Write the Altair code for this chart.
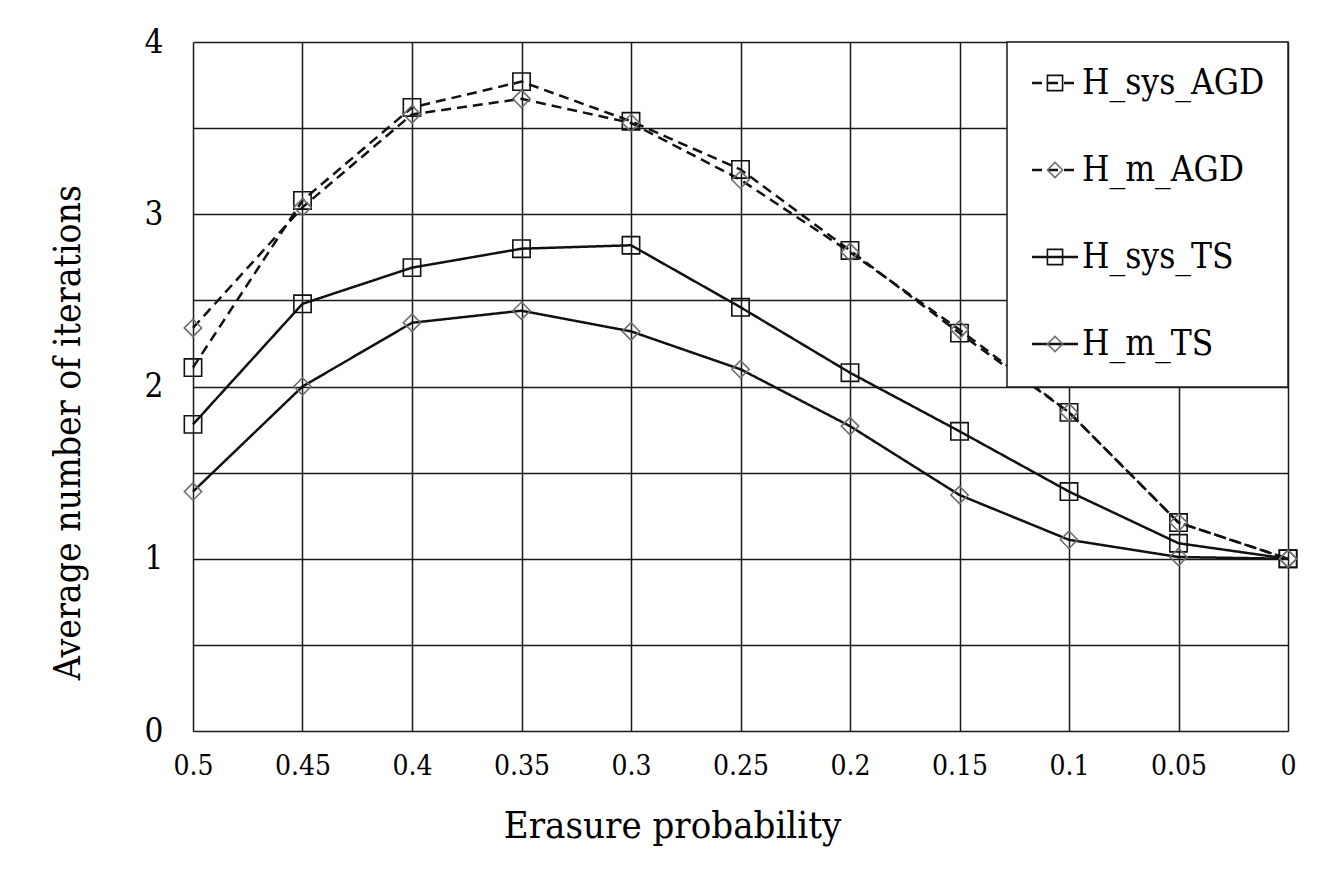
import altair as alt
import pandas as pd

erasure = [0.5, 0.45, 0.4, 0.35, 0.3, 0.25, 0.2, 0.15, 0.1, 0.05, 0.0]
h_sys_agd = [2.11, 3.08, 3.62, 3.77, 3.54, 3.26, 2.79, 2.31, 1.85, 1.21, 1.00]
h_m_agd = [2.34, 3.04, 3.58, 3.67, 3.53, 3.20, 2.78, 2.33, 1.85, 1.21, 1.00]
h_sys_ts = [1.78, 2.48, 2.69, 2.80, 2.82, 2.46, 2.08, 1.74, 1.39, 1.09, 1.00]
h_m_ts = [1.39, 2.00, 2.37, 2.44, 2.32, 2.10, 1.77, 1.37, 1.11, 1.01, 1.00]

series_names = ["H_sys_AGD", "H_m_AGD", "H_sys_TS", "H_m_TS"]
series_values = [h_sys_agd, h_m_agd, h_sys_ts, h_m_ts]
y_ticks = [0, 0.5, 1, 1.5, 2, 2.5, 3, 3.5, 4]

rows = []
for name, vals in zip(series_names, series_values):
    for x, v in zip(erasure, vals):
        rows.append({"p": x, "iters": v, "series": name})
df = pd.DataFrame(rows)

legend_df = pd.DataFrame({"series": series_names, "row": list(range(len(series_names)))})
box_df = pd.DataFrame({"k": [0]})

FONT = "'DejaVu Serif Condensed', 'DejaVu Serif', serif"

dash_scale = alt.Scale(domain=series_names, range=[[10, 6], [10, 6], [1, 0], [1, 0]])
shape_scale = alt.Scale(domain=series_names, range=["square", "diamond", "square", "diamond"])
stroke_scale = alt.Scale(domain=series_names, range=["#111111", "#6e6e6e", "#111111", "#6e6e6e"])

x_enc = alt.X(
    "p:Q",
    scale=alt.Scale(domain=[0, 0.5], reverse=True, nice=False, zero=False),
    axis=alt.Axis(
        values=erasure, format="~g", title="Erasure probability",
        labelFont=FONT, labelFontSize=28, labelColor="black", labelPadding=21,
        labelFlush=False, labelOverlap=False, tickSize=0, domain=False,
        grid=True, gridColor="#1a1a1a", gridWidth=1.5,
        titleFont=FONT, titleFontSize=38, titleFontWeight="normal", titleColor="black",
        titleX=479, titleY=76,
    ),
)
y_enc = alt.Y(
    "iters:Q",
    scale=alt.Scale(domain=[0, 4], nice=False),
    axis=alt.Axis(
        values=y_ticks, format="~g",
        labelExpr="datum.value % 1 == 0 ? datum.label : ''",
        title="Average number of iterations",
        labelFont=FONT, labelFontSize=33, labelColor="black", labelPadding=30,
        labelFlush=False, labelOverlap=False, tickSize=0, domain=False,
        grid=True, gridColor="#1a1a1a", gridWidth=1.5,
        titleFont=FONT, titleFontSize=37, titleFontWeight="normal", titleColor="black",
        titleX=-106, titleY=390,
    ),
)

lines = alt.Chart(df).mark_line(strokeWidth=2.5, color="#111111").encode(
    x=x_enc, y=y_enc,
    strokeDash=alt.StrokeDash("series:N", scale=dash_scale, legend=None),
    detail="series:N",
)

points = alt.Chart(df).mark_point(filled=False, size=300, strokeWidth=1.6, opacity=1).encode(
    x="p:Q", y="iters:Q",
    shape=alt.Shape("series:N", scale=shape_scale, legend=None),
    stroke=alt.Stroke("series:N", scale=stroke_scale, legend=None),
)

main = alt.layer(lines, points)

# legend
box = alt.Chart(box_df).mark_rect(fill="white", stroke="#1a1a1a", strokeWidth=1.5).encode(
    x=alt.value(814), x2=alt.value(1095), y=alt.value(0), y2=alt.value(345)
)
ly = alt.Y("row:Q", scale=alt.Scale(domain=[0, 3], range=[41, 302]), axis=None)
leg_lines = alt.Chart(legend_df).mark_rule(strokeWidth=2.5, color="#111111").encode(
    x=alt.value(839), x2=alt.value(885), y=ly,
    strokeDash=alt.StrokeDash("series:N", scale=alt.Scale(domain=series_names, range=[[8, 7], [8, 7], [1, 0], [1, 0]]), legend=None),
)
leg_points = alt.Chart(legend_df).mark_point(filled=False, size=230, strokeWidth=1.6, opacity=1).encode(
    x=alt.value(862), y=ly,
    shape=alt.Shape("series:N", scale=shape_scale, legend=None),
    stroke=alt.Stroke("series:N", scale=stroke_scale, legend=None),
)
leg_text = alt.Chart(legend_df).mark_text(
    align="left", baseline="middle", font=FONT, fontSize=35, color="black", dx=0
).encode(x=alt.value(889), y=ly, text="series:N")

legend = alt.layer(box, leg_lines, leg_points, leg_text)

chart = alt.layer(main, legend).resolve_scale(y="independent").properties(
    width=1095, height=689,
    autosize=alt.AutoSizeParams(type="none"),
    padding={"left": 193, "top": 42, "right": 45, "bottom": 138},
    background="white",
).configure_view(stroke=None)

chart.save("out.html", embed_options={"renderer": "svg", "actions": False})
